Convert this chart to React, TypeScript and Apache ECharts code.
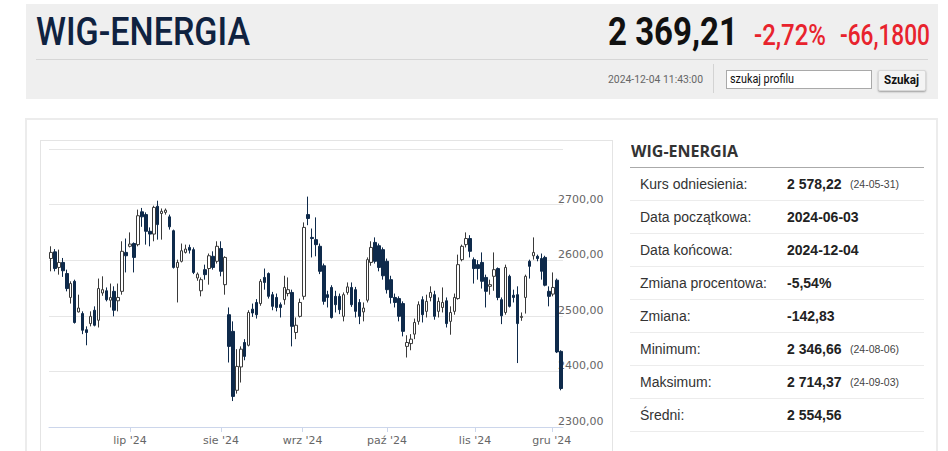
import React, { useEffect, useLayoutEffect, useRef } from "react";
import * as echarts from "echarts";

// ---------- data ----------
const startDate = "2024-06-03";
const endDate = "2024-12-04";
const holidays = ["2024-08-15", "2024-11-01", "2024-11-11"];

const opens = [
  2603, 2615, 2587, 2596, 2576, 2533, 2562, 2507, 2504, 2475,
  2486, 2510, 2492, 2541, 2545, 2528, 2544, 2527, 2544, 2614,
  2625, 2630, 2628, 2687, 2682, 2652, 2647, 2697, 2684, 2686,
  2678, 2653, 2587, 2598, 2614, 2623, 2619, 2568, 2545, 2583,
  2585, 2607, 2598, 2621, 2556, 2502, 2472, 2366, 2408, 2452,
  2447, 2512, 2524, 2522, 2569, 2576, 2538, 2533, 2520, 2529,
  2540, 2542, 2470, 2499, 2535, 2682, 2641, 2637, 2625, 2590,
  2538, 2551, 2535, 2535, 2499, 2542, 2551, 2547, 2524, 2507,
  2528, 2596, 2632, 2626, 2619, 2598, 2565, 2533, 2531, 2522,
  2445, 2450, 2467, 2490, 2529, 2508, 2533, 2538, 2508, 2515,
  2527, 2490, 2508, 2531, 2601, 2628, 2639, 2601, 2592, 2596,
  2569, 2553, 2571, 2585, 2529, 2506, 2571, 2537, 2538, 2497,
  2533, 2598, 2608, 2607, 2603, 2605, 2544, 2539, 2564, 2436,
];
const closes = [
  2614, 2585, 2596, 2581, 2549, 2558, 2488, 2514, 2474, 2470,
  2499, 2483, 2549, 2547, 2529, 2533, 2510, 2533, 2616, 2608,
  2629, 2605, 2680, 2678, 2652, 2647, 2695, 2664, 2688, 2690,
  2660, 2587, 2596, 2617, 2620, 2618, 2578, 2575, 2565, 2574,
  2608, 2587, 2625, 2580, 2605, 2445, 2355, 2409, 2440, 2427,
  2506, 2505, 2502, 2562, 2560, 2535, 2517, 2515, 2515, 2551,
  2547, 2481, 2483, 2524, 2659, 2675, 2639, 2628, 2580, 2526,
  2533, 2497, 2520, 2511, 2538, 2552, 2520, 2508, 2499, 2514,
  2601, 2623, 2598, 2587, 2572, 2547, 2533, 2524, 2499, 2472,
  2452, 2458, 2488, 2520, 2502, 2526, 2542, 2499, 2526, 2524,
  2486, 2506, 2533, 2592, 2625, 2639, 2616, 2585, 2585, 2562,
  2544, 2556, 2583, 2533, 2500, 2587, 2517, 2533, 2486, 2499,
  2571, 2589, 2614, 2603, 2580, 2555, 2535, 2551, 2435, 2369.21,
];
const lows = [
  2580, 2580, 2574, 2570, 2544, 2522, 2486, 2506, 2467, 2447,
  2481, 2481, 2479, 2536, 2526, 2515, 2499, 2508, 2538, 2578,
  2623, 2578, 2625, 2660, 2628, 2625, 2634, 2637, 2637, 2682,
  2655, 2585, 2524, 2596, 2612, 2612, 2575, 2563, 2535, 2565,
  2556, 2583, 2594, 2571, 2538, 2416, 2346.66, 2360, 2380, 2420,
  2445, 2498, 2495, 2518, 2547, 2531, 2510, 2508, 2497, 2520,
  2535, 2445, 2458, 2497, 2529, 2663, 2605, 2607, 2575, 2520,
  2515, 2495, 2506, 2503, 2490, 2538, 2516, 2497, 2485, 2490,
  2524, 2590, 2594, 2580, 2565, 2540, 2522, 2515, 2490, 2463,
  2425, 2438, 2458, 2484, 2488, 2497, 2526, 2493, 2497, 2506,
  2479, 2466, 2502, 2529, 2598, 2623, 2605, 2558, 2565, 2549,
  2515, 2538, 2545, 2528, 2485, 2502, 2515, 2524, 2415, 2491,
  2504, 2567, 2601, 2598, 2565, 2553, 2517, 2535, 2433, 2366,
];
const highs = [
  2625, 2620, 2619, 2604, 2583, 2562, 2565, 2538, 2508, 2481,
  2508, 2517, 2567, 2571, 2551, 2558, 2553, 2558, 2634, 2639,
  2650, 2632, 2691, 2694, 2686, 2659, 2698, 2707, 2693, 2693,
  2682, 2655, 2601, 2630, 2628, 2628, 2623, 2578, 2569, 2592,
  2612, 2616, 2634, 2634, 2607, 2515, 2490, 2440, 2445, 2458,
  2510, 2522, 2530, 2566, 2585, 2578, 2543, 2540, 2524, 2572,
  2569, 2547, 2497, 2531, 2668, 2714.37, 2657, 2677, 2630, 2594,
  2545, 2555, 2545, 2540, 2542, 2560, 2560, 2552, 2530, 2524,
  2605, 2634, 2641, 2630, 2623, 2603, 2572, 2540, 2535, 2526,
  2465, 2467, 2495, 2526, 2535, 2538, 2553, 2545, 2533, 2551,
  2533, 2517, 2540, 2610, 2628, 2650, 2645, 2605, 2600, 2614,
  2574, 2565, 2614, 2587, 2533, 2592, 2574, 2547, 2553, 2506,
  2574, 2601, 2641, 2610, 2612, 2608, 2553, 2578, 2567, 2438,
];

const yMin = 2300;
const yMax = 2800;
const yStep = 100;
const monthStarts = ["2024-07-01", "2024-08-01", "2024-09-01", "2024-10-01", "2024-11-01", "2024-12-01"];
const monthLabels = ["lip '24", "sie '24", "wrz '24", "paź '24", "lis '24", "gru '24"];

const headerTitle = "WIG-ENERGIA";
const lastPrice = "2 369,21";
const changePct = "-2,72%";
const changeAbs = "-66,1800";
const timestamp = "2024-12-04 11:43:00";
const searchPlaceholder = "szukaj profilu";
const searchButton = "Szukaj";

const statLabels = ["Kurs odniesienia:", "Data początkowa:", "Data końcowa:", "Zmiana procentowa:", "Zmiana:", "Minimum:", "Maksimum:", "Średni:"];
const statValues = ["2 578,22", "2024-06-03", "2024-12-04", "-5,54%", "-142,83", "2 346,66", "2 714,37", "2 554,56"];
const statDates = ["(24-05-31)", "", "", "", "", "(24-08-06)", "(24-09-03)", ""];

// ---------- helpers ----------
function tradingDays(): string[] {
  const out: string[] = [];
  const d = new Date(startDate + "T00:00:00Z");
  const end = new Date(endDate + "T00:00:00Z");
  while (d.getTime() <= end.getTime()) {
    const s = d.toISOString().slice(0, 10);
    const wd = d.getUTCDay();
    if (wd !== 0 && wd !== 6 && holidays.indexOf(s) < 0) out.push(s);
    d.setUTCDate(d.getUTCDate() + 1);
  }
  return out;
}

function ordinalPos(dates: string[], iso: string): number {
  const t = Date.parse(iso + "T00:00:00Z");
  for (let i = 0; i < dates.length; i++) {
    const ti = Date.parse(dates[i] + "T00:00:00Z");
    if (ti === t) return i;
    if (ti > t) {
      if (i === 0) return 0;
      const tp = Date.parse(dates[i - 1] + "T00:00:00Z");
      return i - 1 + (t - tp) / (ti - tp);
    }
  }
  return dates.length - 1;
}

const fmtNum = (v: number) => v.toFixed(2).replace(".", ",");

function Fit(props: { text: string; left: number; baseline: number; width: number; size: number; asc?: number; style?: any }) {
  const r = useRef<HTMLSpanElement>(null);
  const asc = props.asc ?? 0.846;
  useLayoutEffect(() => {
    const fit = () => {
      const el = r.current;
      if (!el) return;
      el.style.transform = "none";
      const w = el.getBoundingClientRect().width;
      if (w > 0) el.style.transform = `scaleX(${props.width / w})`;
    };
    fit();
    if ((document as any).fonts && (document as any).fonts.ready) (document as any).fonts.ready.then(fit);
  }, []);
  return (
    <span
      ref={r}
      style={{
        position: "absolute",
        left: props.left,
        top: props.baseline - asc * props.size,
        fontSize: props.size,
        lineHeight: `${props.size}px`,
        whiteSpace: "nowrap",
        transformOrigin: "0 0",
        display: "inline-block",
        ...props.style,
      }}
    >
      {props.text}
    </span>
  );
}

export default function App() {
  const ref = useRef<HTMLDivElement>(null);

  useEffect(() => {
    const dates = tradingDays();
    const n = Math.min(dates.length, opens.length);
    const cats = dates.slice(0, n);
    const tickPos = monthStarts.map((m) => ordinalPos(cats, m));
    const candles = cats.map((_, i) => [opens[i], closes[i], lows[i], highs[i]]);

    const chart = echarts.init(ref.current!, null, { renderer: "svg" });
    chart.setOption({
      animation: false,
      grid: { left: 49, top: 149, right: 948 - 563, bottom: 451 - 427, containLabel: false },
      xAxis: [
        {
          type: "category",
          data: cats,
          boundaryGap: true,
          axisLine: { show: true, lineStyle: { color: "#ccd6eb", width: 1 } },
          axisTick: { show: false },
          axisLabel: { show: false },
          splitLine: { show: false },
        },
        {
          type: "value",
          min: -0.5,
          max: n - 0.5,
          position: "bottom",
          axisLine: { show: false },
          splitLine: { show: false },
          axisTick: { show: true, customValues: tickPos, length: 5, lineStyle: { color: "#ccd6eb" } },
          axisLabel: {
            show: true,
            customValues: tickPos,
            margin: 8,
            color: "#666666",
            fontSize: 11,
            fontFamily: "DejaVu Sans, sans-serif",
            formatter: (v: number) => {
              let best = 0;
              for (let i = 1; i < tickPos.length; i++) if (Math.abs(tickPos[i] - v) < Math.abs(tickPos[best] - v)) best = i;
              return monthLabels[best];
            },
          },
        },
      ],
      yAxis: {
        type: "value",
        position: "right",
        min: yMin,
        max: yMax,
        interval: yStep,
        axisLine: { show: false },
        axisTick: { show: false },
        splitLine: { lineStyle: { color: "#e6e6e6", width: 1 } },
        axisLabel: {
          margin: -5,
          align: "left",
          verticalAlign: "bottom",
          showMaxLabel: false,
          color: "#666666",
          fontSize: 11,
          fontFamily: "DejaVu Sans, sans-serif",
          formatter: (v: number) => fmtNum(v),
        },
      },
      series: [
        {
          type: "candlestick",
          xAxisIndex: 0,
          yAxisIndex: 0,
          data: candles,
          barWidth: 3,
          itemStyle: {
            color: "#ffffff",
            color0: "#0e2a4b",
            borderColor: "#3a3a3a",
            borderColor0: "#0e2a4b",
            borderWidth: 1,
          },
        },
      ],
    });
    return () => chart.dispose();
  }, []);

  const rowTop = 168;
  const rowH = 33;

  return (
    <div
      style={{
        position: "fixed",
        left: 0,
        top: 0,
        width: 948,
        height: 451,
        overflow: "hidden",
        background: "#ffffff",
        fontFamily: '"Liberation Sans", Arial, sans-serif',
      }}
    >
      {/* header */}
      <div style={{ position: "absolute", left: 26, top: 4, width: 912, height: 95, background: "#efefef" }} />
      <Fit text={headerTitle} left={36} baseline={45} width={214} size={38} style={{ fontFamily: "Roboto, sans-serif", fontWeight: 500, color: "#0f2240" }} />
      <Fit text={lastPrice} left={608} baseline={46} width={130} size={39} style={{ fontFamily: "Roboto, sans-serif", fontWeight: 700, color: "#111111" }} />
      <Fit text={changePct} left={754} baseline={46} width={72} size={29} style={{ fontFamily: "Roboto, sans-serif", fontWeight: 500, color: "#e8232d" }} />
      <Fit text={changeAbs} left={840} baseline={46} width={90} size={29} style={{ fontFamily: "Roboto, sans-serif", fontWeight: 500, color: "#e8232d" }} />
      <div style={{ position: "absolute", left: 36, top: 59, width: 892, height: 1, background: "#d6d6d6" }} />
      <Fit text={timestamp} left={608} baseline={83} width={95} size={11} style={{ fontFamily: "Roboto, sans-serif", color: "#666666" }} />
      <div style={{ position: "absolute", left: 713, top: 64, width: 1, height: 29, background: "#d3d3d3" }} />
      <div style={{ position: "absolute", left: 726, top: 70, width: 144, height: 17, background: "#ffffff", border: "1px solid #a9a9a9" }} />
      <Fit text={searchPlaceholder} left={730} baseline={83} width={64} size={12} style={{ fontFamily: "Roboto, sans-serif", color: "#111111" }} />
      <div
        style={{
          position: "absolute",
          left: 878,
          top: 70,
          width: 46,
          height: 19,
          background: "#f4f4f4",
          border: "1px solid #d8d8d8",
          borderRadius: 2,
          boxShadow: "0 1px 2px rgba(0,0,0,0.35)",
        }}
      />
      <Fit text={searchButton} left={884} baseline={84} width={35} size={12} style={{ fontFamily: "Roboto, sans-serif", fontWeight: 700, color: "#111111" }} />

      {/* panel */}
      <div style={{ position: "absolute", left: 25, top: 118, width: 909, height: 360, border: "2px solid #ececec" }} />
      <div style={{ position: "absolute", left: 40, top: 140, width: 571, height: 340, border: "1px solid #e4e4e4" }} />

      {/* stats */}
      <Fit text={headerTitle} left={631} baseline={157} width={107} size={16} asc={0.888} style={{ fontFamily: '"Open Sans", sans-serif', fontWeight: 700, color: "#333333" }} />
      <div style={{ position: "absolute", left: 630, top: 167, width: 294, height: 1, background: "#aaaaaa" }} />
      {statLabels.map((lab, i) => (
        <div
          key={lab}
          style={{
            position: "absolute",
            left: 630,
            top: rowTop + rowH * i,
            width: 294,
            height: rowH - 1,
            borderBottom: "1px solid #ececec",
            lineHeight: `${rowH}px`,
            fontSize: 14,
            color: "#333333",
          }}
        >
          <span style={{ position: "absolute", left: 10 }}>{lab}</span>
          <span style={{ position: "absolute", left: 157, fontWeight: 700, color: "#222222" }}>{statValues[i]}</span>
          {statDates[i] ? (
            <span style={{ position: "absolute", left: 220, fontSize: 10.5, color: "#444444" }}>{statDates[i]}</span>
          ) : null}
        </div>
      ))}

      <div ref={ref} style={{ position: "absolute", left: 0, top: 0, width: 948, height: 451, pointerEvents: "none" }} />
    </div>
  );
}
